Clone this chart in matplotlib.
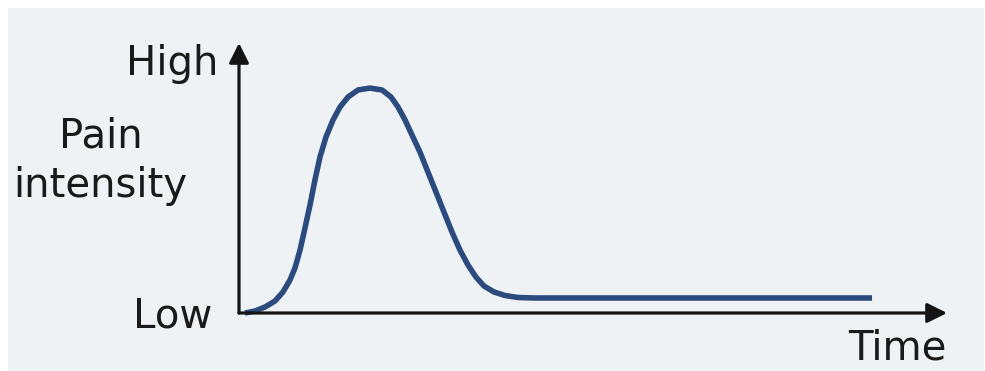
import matplotlib
matplotlib.use("Agg")
import matplotlib.pyplot as plt
from matplotlib.patches import Rectangle

# Data (time in % of axis span, pain intensity in % of axis span)
time = [0.85, 2.26, 3.67, 5.08, 6.21, 7.20, 7.91, 8.62, 9.32, 10.03, 10.73,
        11.44, 12.29, 13.28, 14.27, 15.40, 16.81, 18.50, 20.20, 21.47, 22.46,
        23.45, 24.44, 25.56, 26.69, 27.82, 28.95, 30.08, 31.21, 32.34, 33.47,
        34.60, 36.02, 37.57, 39.41, 41.81, 89.41]
intensity = [0.0, 0.74, 2.22, 4.44, 7.78, 12.2, 16.7, 23.3, 31.5, 40.0, 49.3,
             57.8, 65.2, 71.5, 76.3, 80.0, 82.6, 83.3, 82.6, 80.0, 76.3,
             71.5, 65.9, 59.6, 52.2, 44.8, 37.4, 30.0, 23.3, 17.8, 13.3,
             10.0, 7.78, 6.48, 5.74, 5.56, 5.56]

y_labels = ["Low", "High"]
y_title = ["Pain", "intensity"]
x_title = "Time"

W, H = 985, 371
fig = plt.figure(figsize=(W / 100, H / 100), dpi=100, facecolor="white")
bg = "#eef2f5"
fig.patches.append(Rectangle((8 / W, 0), (984 - 8) / W, (H - 8) / H,
                             transform=fig.transFigure, facecolor=bg,
                             edgecolor="none", zorder=-10))

ax = fig.add_axes([239 / W, (H - 313) / H, (947 - 239) / W, (313 - 43) / H])
ax.set_zorder(5)
ax.set_xlim(0, 100)
ax.set_ylim(0, 100)
ax.patch.set_alpha(0)
for s in ax.spines.values():
    s.set_visible(False)
ax.set_xticks([])
ax.set_yticks([])

ax.plot(time, intensity, color="#2b4a7e", lw=4.0, solid_capstyle="butt",
        solid_joinstyle="round", zorder=3, clip_on=False)

axis_col = "#141414"
arrow = dict(arrowstyle="-|>,head_length=0.6,head_width=0.3", lw=2.3,
             color=axis_col, mutation_scale=20, shrinkA=0, shrinkB=0)
ax.annotate("", xy=(1, 0), xytext=(0, 0), xycoords="axes fraction",
            textcoords="axes fraction", arrowprops=arrow, zorder=4)
ax.annotate("", xy=(0, 1), xytext=(0, 0), xycoords="axes fraction",
            textcoords="axes fraction", arrowprops=arrow, zorder=4)

fs = 29
tc = "#1a1a1a"
fig.text(218 / W, 1 - 75 / H, y_labels[1], ha="right", va="baseline",
         fontsize=fs, color=tc, family="DejaVu Sans")
fig.text(212 / W, 1 - 327 / H, y_labels[0], ha="right", va="baseline",
         fontsize=fs, color=tc, family="DejaVu Sans")
fig.text(101 / W, 1 - 147 / H, y_title[0], ha="center", va="baseline",
         fontsize=fs, color=tc, family="DejaVu Sans")
fig.text(100 / W, 1 - 197 / H, y_title[1], ha="center", va="baseline",
         fontsize=fs, color=tc, family="DejaVu Sans")
fig.text(947 / W, 1 - 360 / H, x_title, ha="right", va="baseline",
         fontsize=fs, color=tc, family="DejaVu Sans")

fig.savefig("out.png", dpi=100, facecolor="white")
